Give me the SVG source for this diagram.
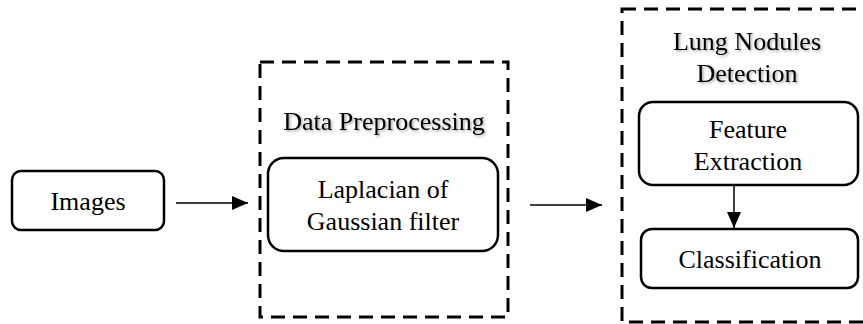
<svg xmlns="http://www.w3.org/2000/svg" width="863" height="324" viewBox="0 0 863 324">
<style>
.t{font-family:'Liberation Serif','Times New Roman','DejaVu Serif',serif;font-size:26px;fill:#000;text-anchor:middle}
.box{fill:#fff;stroke:#000;stroke-width:2.5}
.dash{fill:none;stroke:#000;stroke-width:3;stroke-dasharray:14 8}
.conn{fill:none;stroke:#000;stroke-width:1.5}
</style>
<defs>
<marker id="ah" viewBox="0 0 16 14" refX="16" refY="7" markerWidth="16" markerHeight="14" markerUnits="userSpaceOnUse" orient="auto">
<path d="M0,0 L16,7 L0,14 Z" fill="#000"/>
</marker>
<filter id="sh" x="-10%" y="-30%" width="120%" height="160%">
<feDropShadow dx="1.5" dy="1.5" stdDeviation="1" flood-color="#000" flood-opacity="0.35"/>
</filter>
</defs>
<g id="images">
<rect class="box" x="12" y="171" width="152" height="59" rx="9"/>
<text class="t" x="88" y="210">Images</text>
</g>
<g id="preprocessing">
<rect class="dash" x="260" y="62" width="248" height="255"/>
<text class="t" x="384" y="130" filter="url(#sh)">Data Preprocessing</text>
</g>
<g id="log-filter">
<rect class="box" x="268" y="158" width="230" height="93" rx="16"/>
<text class="t" x="383" y="198">Laplacian of</text>
<text class="t" x="383" y="230">Gaussian filter</text>
</g>
<g id="detection">
<rect class="dash" x="622" y="9" width="250" height="313"/>
<text class="t" x="747" y="50" filter="url(#sh)">Lung Nodules</text>
<text class="t" x="747" y="82" filter="url(#sh)">Detection</text>
</g>
<g id="feature-extraction">
<rect class="box" x="639" y="102" width="219" height="83" rx="14"/>
<text class="t" x="748" y="138">Feature</text>
<text class="t" x="748" y="170">Extraction</text>
</g>
<g id="classification">
<rect class="box" x="641" y="229" width="217" height="59" rx="11"/>
<text class="t" x="750" y="268">Classification</text>
</g>
<g id="connectors">
<line class="conn" x1="176" y1="203" x2="248" y2="203" marker-end="url(#ah)"/>
<line class="conn" x1="530" y1="205" x2="602" y2="205" marker-end="url(#ah)"/>
<line class="conn" x1="734" y1="185" x2="734" y2="228" marker-end="url(#ah)"/>
</g>
</svg>
